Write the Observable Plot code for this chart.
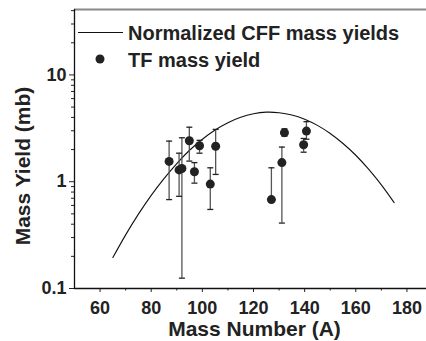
<!DOCTYPE html>
<html><head><meta charset="utf-8">
<script src="https://cdn.jsdelivr.net/npm/d3@7"></script>
<script src="https://cdn.jsdelivr.net/npm/@observablehq/plot@0.6"></script>
<style>body{margin:0;background:#fff}</style>
</head><body><div id="chart"></div>
<script>
// TF mass yield points
const massNumbers = [87.0, 90.9, 92.0, 94.9, 96.9, 98.9, 103.1, 105.2, 127.0, 131.1, 132.1, 139.6, 140.7];
const yields      = [1.55, 1.29, 1.33, 2.42, 1.24, 2.17, 0.95, 2.15, 0.68, 1.51, 2.88, 2.22, 2.98];
const errHigh     = [2.40, 1.85, 2.58, 3.24, 1.51, 2.44, 1.35, 3.09, 1.35, 2.11, 3.13, 2.54, 3.65];
const errLow      = [0.68, 0.73, 0.125, 1.56, 0.97, 1.85, 0.55, 1.17, 0.68, 0.41, 2.67, 1.89, 2.50];
// Normalized CFF mass yields curve
const curveA = [65, 70, 75, 80, 85, 90, 95, 100, 105, 110, 115, 120, 125, 130, 135, 140, 145, 150, 155, 160, 165, 170, 175];
const curveY = [0.195, 0.318, 0.497, 0.746, 1.07, 1.48, 1.97, 2.50, 3.05, 3.57, 4.01, 4.33, 4.48, 4.43, 4.22, 3.85, 3.37, 2.83, 2.28, 1.77, 1.31, 0.933, 0.637];
// ticks
const majorXTicks = [60, 80, 100, 120, 140, 160, 180];
const minorXTicks = [70, 90, 110, 130, 150, 170];
const majorYTicks = [0.1, 1, 10];
const minorYTicks = [0.2,0.3,0.4,0.5,0.6,0.7,0.8,0.9,2,3,4,5,6,7,8,9,20,30,40];
const legendLabels = ["Normalized CFF mass yields", "TF mass yield"];

const points = massNumbers.map((a, i) => ({a, y: yields[i], hi: errHigh[i], lo: errLow[i]}));
const curve = curveA.map((a, i) => ({a, y: curveY[i]}));
const font = "'Liberation Sans', Arial, Helvetica, sans-serif";
const capSymbol = {draw(ctx, size) { const w = Math.sqrt(size / Math.PI); ctx.moveTo(-w, 0); ctx.lineTo(w, 0); }};

const svg = Plot.plot({
  width: 426, height: 341,
  marginLeft: 74, marginRight: 0, marginTop: 9, marginBottom: 53,
  style: {fontFamily: font, background: "#fff", color: "#222", overflow: "visible"},
  x: {type: "linear", domain: [50, 190], range: [74, 432]},
  y: {type: "log", domain: [0.1, 41]},
  marks: [
    Plot.ruleY([41], {stroke: "#888", strokeWidth: 2}),
    Plot.axisX({ticks: majorXTicks, tickSize: 4, tickPadding: 9, fontSize: 18, fontWeight: "bold", label: null, tickFormat: d => String(d)}),
    Plot.axisX({ticks: minorXTicks, tickSize: 2.5, text: null, label: null}),
    Plot.axisY({ticks: majorYTicks, tickSize: 5, tickPadding: 3, fontSize: 18, fontWeight: "bold", label: null, tickFormat: d => String(d)}),
    Plot.axisY({ticks: minorYTicks, tickSize: 3, text: null, label: null}),
    Plot.ruleY([0.1], {stroke: "#111", strokeWidth: 1.3}),
    Plot.ruleX([50], {stroke: "#111", strokeWidth: 1.3}),
    Plot.line(curve, {x: "a", y: "y", stroke: "#111", strokeWidth: 1.1, curve: "natural"}),
    Plot.ruleX(points, {x: "a", y1: "lo", y2: "hi", stroke: "#555", strokeWidth: 1.3}),
    Plot.dot(points, {x: "a", y: "hi", symbol: capSymbol, r: 3, stroke: "#222", strokeWidth: 1.3}),
    Plot.dot(points.filter(d => d.lo < d.y), {x: "a", y: "lo", symbol: capSymbol, r: 3, stroke: "#222", strokeWidth: 1.3}),
    Plot.dot(points, {x: "a", y: "y", r: 4.5, fill: "#222", stroke: "none"}),
    Plot.text(["Mass Number (A)"], {text: d => d, frameAnchor: "bottom", textAnchor: "middle", dx: 4, dy: 41, fontSize: 21, fontWeight: "bold", lineAnchor: "middle", fill: "#222"}),
    Plot.text(["Mass Yield (mb)"], {text: d => d, frameAnchor: "left", textAnchor: "middle", rotate: -90, dx: -51, dy: 17, fontSize: 21, fontWeight: "bold", lineAnchor: "middle", fill: "#222"})
  ]
});

// legend
const g = d3.select(svg).append("g").attr("font-family", font).attr("font-weight", "bold").attr("font-size", 20).attr("fill", "#222").attr("text-anchor", "start");
g.append("line").attr("x1", 78).attr("x2", 123).attr("y1", 32.5).attr("y2", 32.5).attr("stroke", "#111").attr("stroke-width", 1.1);
g.append("text").attr("x", 128).attr("y", 33.3).attr("dy", "0.35em").text(legendLabels[0]);
g.append("circle").attr("cx", 100).attr("cy", 59).attr("r", 4.5).attr("fill", "#222");
g.append("text").attr("x", 128).attr("y", 59.5).attr("dy", "0.35em").text(legendLabels[1]);

document.getElementById("chart").append(svg);
</script>
</body></html>
